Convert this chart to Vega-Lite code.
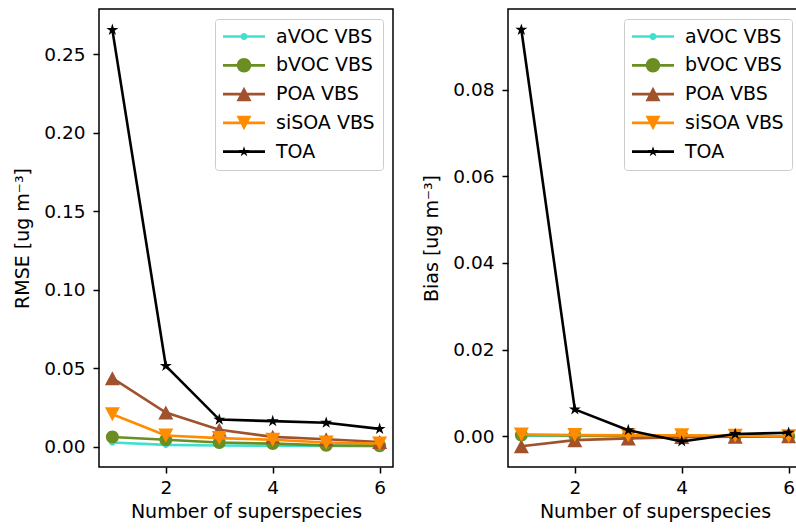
{
  "$schema": "https://vega.github.io/schema/vega-lite/v6.json",
  "background": "white",
  "padding": {"left": 13, "top": 8, "right": 0, "bottom": 3},
  "datasets": {
    "d": [
      {"n": 1, "series": "aVOC VBS", "rmse": 0.0027, "bias": 0.0001},
      {"n": 2, "series": "aVOC VBS", "rmse": 0.0012, "bias": 0.00005},
      {"n": 3, "series": "aVOC VBS", "rmse": 0.0008, "bias": 0.0},
      {"n": 4, "series": "aVOC VBS", "rmse": 0.0007, "bias": 0.0},
      {"n": 5, "series": "aVOC VBS", "rmse": 0.0005, "bias": 0.0},
      {"n": 6, "series": "aVOC VBS", "rmse": 0.0004, "bias": 0.0},
      {"n": 1, "series": "bVOC VBS", "rmse": 0.0062, "bias": 0.0003},
      {"n": 2, "series": "bVOC VBS", "rmse": 0.0045, "bias": 0.0002},
      {"n": 3, "series": "bVOC VBS", "rmse": 0.0027, "bias": 0.0001},
      {"n": 4, "series": "bVOC VBS", "rmse": 0.002, "bias": 0.0001},
      {"n": 5, "series": "bVOC VBS", "rmse": 0.0009, "bias": 0.0},
      {"n": 6, "series": "bVOC VBS", "rmse": 0.0007, "bias": 0.0},
      {"n": 1, "series": "POA VBS", "rmse": 0.0437, "bias": -0.0023},
      {"n": 2, "series": "POA VBS", "rmse": 0.0218, "bias": -0.0009},
      {"n": 3, "series": "POA VBS", "rmse": 0.0108, "bias": -0.0005},
      {"n": 4, "series": "POA VBS", "rmse": 0.0063, "bias": -0.0002},
      {"n": 5, "series": "POA VBS", "rmse": 0.0048, "bias": -0.0001},
      {"n": 6, "series": "POA VBS", "rmse": 0.003, "bias": 0.0},
      {"n": 1, "series": "siSOA VBS", "rmse": 0.0207, "bias": 0.0004},
      {"n": 2, "series": "siSOA VBS", "rmse": 0.0072, "bias": 0.0003},
      {"n": 3, "series": "siSOA VBS", "rmse": 0.0055, "bias": 0.0002},
      {"n": 4, "series": "siSOA VBS", "rmse": 0.0045, "bias": 0.0002},
      {"n": 5, "series": "siSOA VBS", "rmse": 0.0027, "bias": 0.0001},
      {"n": 6, "series": "siSOA VBS", "rmse": 0.0021, "bias": 0.0},
      {"n": 1, "series": "TOA", "rmse": 0.2655, "bias": 0.0938},
      {"n": 2, "series": "TOA", "rmse": 0.0515, "bias": 0.0062},
      {"n": 3, "series": "TOA", "rmse": 0.0173, "bias": 0.0014},
      {"n": 4, "series": "TOA", "rmse": 0.0163, "bias": -0.0012},
      {"n": 5, "series": "TOA", "rmse": 0.0153, "bias": 0.0005},
      {"n": 6, "series": "TOA", "rmse": 0.0114, "bias": 0.0008}
    ]
  },
  "config": {
    "font": "DejaVu Sans",
    "view": {"stroke": "black", "strokeWidth": 1.5},
    "point": {"filled": true, "size": 100, "opacity": 1, "strokeWidth": 0},
    "axis": {
      "grid": false, "domain": false,
      "tickColor": "black", "tickSize": 6, "tickWidth": 1.5,
      "labelFont": "DejaVu Sans", "labelFontSize": 18.5, "labelColor": "black",
      "titleFont": "DejaVu Sans", "titleFontSize": 19, "titleFontWeight": "normal", "titleColor": "black"
    },
    "axisX": {"labelPadding": 5, "titlePadding": 6},
    "axisY": {"labelPadding": 8, "titlePadding": 11},
    "legend": {"orient": "top-right", "offset": 10, "padding": 8, "strokeColor": "#cccccc", "fillColor": "white", "cornerRadius": 3, "symbolSize": 100, "symbolOffset": 11.5, "labelOffset": 22.5, "labelFontSize": 19, "labelFont": "DejaVu Sans", "labelColor": "black", "rowPadding": 8.8, "labelLimit": 300, "symbolStrokeWidth": 0, "symbolOpacity": 1},
    "concat": {"spacing": 28}
  },
  "resolve": {
    "scale": {"color": "independent", "shape": "independent"},
    "legend": {"color": "independent", "shape": "independent"}
  },
  "hconcat": [
    {
      "width": 294, "height": 458,
      "data": {"name": "d"},
      "encoding": {
        "x": {"field": "n", "type": "quantitative", "scale": {"domain": [0.75, 6.25], "nice": false, "zero": false}, "axis": {"values": [2, 4, 6], "format": "d", "title": "Number of superspecies"}},
        "y": {"field": "rmse", "type": "quantitative", "scale": {"domain": [-0.0129, 0.2788], "nice": false, "zero": false}, "axis": {"values": [0, 0.05, 0.1, 0.15, 0.2, 0.25], "format": ".2f", "title": "RMSE [ug m⁻³]"}},
        "color": {"field": "series", "type": "nominal", "scale": {"domain": ["aVOC VBS", "bVOC VBS", "POA VBS", "siSOA VBS", "TOA"], "range": ["#40E0D0", "#6B8E23", "#A0522D", "#FF8C00", "#000000"]}, "legend": {"title": null, "encoding": {"symbols": {"strokeWidth": {"value": 0}}}}}
      },
      "layer": [
        {"transform": [{"filter": {"field": "series", "equal": "aVOC VBS"}}], "mark": {"type": "line"}, "encoding": {"strokeWidth": {"value": 2.6}}},
        {"transform": [{"filter": {"field": "series", "equal": "aVOC VBS"}}], "mark": {"type": "point", "shape": "M0.66,0A0.66,0.66,0,1,1,-0.66,0A0.66,0.66,0,1,1,0.66,0Z"}},
        {"transform": [{"filter": {"field": "series", "equal": "bVOC VBS"}}], "mark": {"type": "line"}, "encoding": {"strokeWidth": {"value": 2.6}}},
        {"transform": [{"filter": {"field": "series", "equal": "bVOC VBS"}}], "mark": {"type": "point", "shape": "M1.3,0A1.3,1.3,0,1,1,-1.3,0A1.3,1.3,0,1,1,1.3,0Z"}},
        {"transform": [{"filter": {"field": "series", "equal": "POA VBS"}}], "mark": {"type": "line"}, "encoding": {"strokeWidth": {"value": 2.6}}},
        {"transform": [{"filter": {"field": "series", "equal": "POA VBS"}}], "mark": {"type": "point", "shape": "M0,-1.4L1.5,1.4L-1.5,1.4Z"}},
        {"transform": [{"filter": {"field": "series", "equal": "siSOA VBS"}}], "mark": {"type": "line"}, "encoding": {"strokeWidth": {"value": 2.6}}},
        {"transform": [{"filter": {"field": "series", "equal": "siSOA VBS"}}], "mark": {"type": "point", "shape": "M0,1.4L-1.5,-1.4L1.5,-1.4Z"}},
        {"transform": [{"filter": {"field": "series", "equal": "TOA"}}], "mark": {"type": "line"}, "encoding": {"strokeWidth": {"value": 2.6}}},
        {"transform": [{"filter": {"field": "series", "equal": "TOA"}}], "mark": {"type": "point", "shape": "M0,-1.26L0.2829,-0.3894L1.1983,-0.3894L0.4577,0.1487L0.7406,1.0194L0,0.4813L-0.7406,1.0194L-0.4577,0.1487L-1.1983,-0.3894L-0.2829,-0.3894Z"}},
        {
          "transform": [{"filter": {"field": "n", "equal": 0}}],
          "mark": {"type": "point"},
          "encoding": {
            "shape": {"field": "series", "type": "nominal", "legend": {"title": null, "encoding": {"symbols": {"strokeWidth": {"value": 0}}}},
              "scale": {"domain": ["aVOC VBS", "bVOC VBS", "POA VBS", "siSOA VBS", "TOA"],
                "range": [
                  "M-4.2,-0.27H4.2V0.27H-4.2Z M0.7,0A0.7,0.7,0,1,1,-0.7,0A0.7,0.7,0,1,1,0.7,0Z",
                  "M-4.2,-0.27H4.2V0.27H-4.2Z M1.45,0A1.45,1.45,0,1,1,-1.45,0A1.45,1.45,0,1,1,1.45,0Z",
                  "M-4.2,-0.27H4.2V0.27H-4.2Z M0,-1.45L1.5,1.45L-1.5,1.45Z",
                  "M-4.2,-0.27H4.2V0.27H-4.2Z M0,1.45L-1.5,-1.45L1.5,-1.45Z",
                  "M-4.2,-0.27H4.2V0.27H-4.2Z M0,-1.1L0.247,-0.34L1.046,-0.34L0.4,0.13L0.647,0.89L0,0.42L-0.647,0.89L-0.4,0.13L-1.046,-0.34L-0.247,-0.34Z"
                ]}}
          }
        }
      ]
    },
    {
      "width": 294, "height": 458,
      "data": {"name": "d"},
      "encoding": {
        "x": {"field": "n", "type": "quantitative", "scale": {"domain": [0.75, 6.25], "nice": false, "zero": false}, "axis": {"values": [2, 4, 6], "format": "d", "title": "Number of superspecies"}},
        "y": {"field": "bias", "type": "quantitative", "scale": {"domain": [-0.0071, 0.0986], "nice": false, "zero": false}, "axis": {"values": [0, 0.02, 0.04, 0.06, 0.08], "format": ".2f", "title": "Bias [ug m⁻³]"}},
        "color": {"field": "series", "type": "nominal", "scale": {"domain": ["aVOC VBS", "bVOC VBS", "POA VBS", "siSOA VBS", "TOA"], "range": ["#40E0D0", "#6B8E23", "#A0522D", "#FF8C00", "#000000"]}, "legend": {"title": null, "encoding": {"symbols": {"strokeWidth": {"value": 0}}}}}
      },
      "layer": [
        {"transform": [{"filter": {"field": "series", "equal": "aVOC VBS"}}], "mark": {"type": "line"}, "encoding": {"strokeWidth": {"value": 2.6}}},
        {"transform": [{"filter": {"field": "series", "equal": "aVOC VBS"}}], "mark": {"type": "point", "shape": "M0.66,0A0.66,0.66,0,1,1,-0.66,0A0.66,0.66,0,1,1,0.66,0Z"}},
        {"transform": [{"filter": {"field": "series", "equal": "bVOC VBS"}}], "mark": {"type": "line"}, "encoding": {"strokeWidth": {"value": 2.6}}},
        {"transform": [{"filter": {"field": "series", "equal": "bVOC VBS"}}], "mark": {"type": "point", "shape": "M1.3,0A1.3,1.3,0,1,1,-1.3,0A1.3,1.3,0,1,1,1.3,0Z"}},
        {"transform": [{"filter": {"field": "series", "equal": "POA VBS"}}], "mark": {"type": "line"}, "encoding": {"strokeWidth": {"value": 2.6}}},
        {"transform": [{"filter": {"field": "series", "equal": "POA VBS"}}], "mark": {"type": "point", "shape": "M0,-1.4L1.5,1.4L-1.5,1.4Z"}},
        {"transform": [{"filter": {"field": "series", "equal": "siSOA VBS"}}], "mark": {"type": "line"}, "encoding": {"strokeWidth": {"value": 2.6}}},
        {"transform": [{"filter": {"field": "series", "equal": "siSOA VBS"}}], "mark": {"type": "point", "shape": "M0,1.4L-1.5,-1.4L1.5,-1.4Z"}},
        {"transform": [{"filter": {"field": "series", "equal": "TOA"}}], "mark": {"type": "line"}, "encoding": {"strokeWidth": {"value": 2.6}}},
        {"transform": [{"filter": {"field": "series", "equal": "TOA"}}], "mark": {"type": "point", "shape": "M0,-1.26L0.2829,-0.3894L1.1983,-0.3894L0.4577,0.1487L0.7406,1.0194L0,0.4813L-0.7406,1.0194L-0.4577,0.1487L-1.1983,-0.3894L-0.2829,-0.3894Z"}},
        {
          "transform": [{"filter": {"field": "n", "equal": 0}}],
          "mark": {"type": "point"},
          "encoding": {
            "shape": {"field": "series", "type": "nominal", "legend": {"title": null, "encoding": {"symbols": {"strokeWidth": {"value": 0}}}},
              "scale": {"domain": ["aVOC VBS", "bVOC VBS", "POA VBS", "siSOA VBS", "TOA"],
                "range": [
                  "M-4.2,-0.27H4.2V0.27H-4.2Z M0.7,0A0.7,0.7,0,1,1,-0.7,0A0.7,0.7,0,1,1,0.7,0Z",
                  "M-4.2,-0.27H4.2V0.27H-4.2Z M1.45,0A1.45,1.45,0,1,1,-1.45,0A1.45,1.45,0,1,1,1.45,0Z",
                  "M-4.2,-0.27H4.2V0.27H-4.2Z M0,-1.45L1.5,1.45L-1.5,1.45Z",
                  "M-4.2,-0.27H4.2V0.27H-4.2Z M0,1.45L-1.5,-1.45L1.5,-1.45Z",
                  "M-4.2,-0.27H4.2V0.27H-4.2Z M0,-1.1L0.247,-0.34L1.046,-0.34L0.4,0.13L0.647,0.89L0,0.42L-0.647,0.89L-0.4,0.13L-1.046,-0.34L-0.247,-0.34Z"
                ]}}
          }
        }
      ]
    }
  ]
}
